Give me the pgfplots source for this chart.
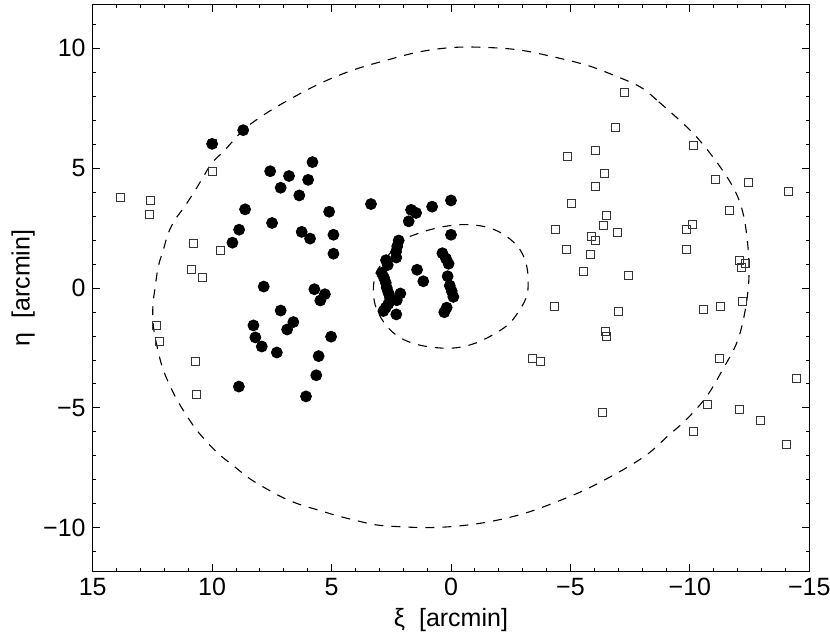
\documentclass[border=0pt]{standalone}
\usepackage{fontspec}
\setmainfont{Liberation Sans}
\usepackage{pgfplots}
\usepackage{pgfplotstable}
\pgfplotsset{compat=1.18}

% members: filled circles
\pgfplotstableread{
x y
8.70 6.58
10.0 6.01
5.80 5.25
7.57 4.87
6.78 4.67
5.98 4.51
7.13 4.18
6.35 3.86
8.62 3.28
3.35 3.50
5.10 3.18
7.49 2.71
8.87 2.43
6.25 2.34
5.90 2.06
4.92 2.22
9.15 1.89
4.92 1.43
7.84 0.06
5.72 -0.05
5.28 -0.26
5.47 -0.52
7.13 -0.94
6.60 -1.42
8.27 -1.56
6.86 -1.73
5.02 -2.03
8.19 -2.06
7.92 -2.44
7.29 -2.69
5.54 -2.84
5.64 -3.64
8.88 -4.11
6.07 -4.52
1.67 3.26
1.46 3.13
0.79 3.39
0.00 3.65
1.77 2.78
0.00 2.22
2.19 1.98
2.25 1.74
2.30 1.51
2.29 1.27
2.72 1.16
2.65 0.96
0.36 1.45
0.21 1.23
0.10 1.01
1.42 0.76
2.90 0.63
2.80 0.42
0.14 0.49
2.73 0.22
1.16 0.28
0.05 0.10
2.69 0.01
-0.03 -0.13
-0.10 -0.37
2.62 -0.20
2.12 -0.23
2.55 -0.41
2.27 -0.51
2.62 -0.66
2.73 -0.82
2.83 -0.96
2.29 -1.10
0.18 -0.82
0.28 -1.01
}\filled

% field: open squares
\pgfplotstableread{
x y
13.85 3.79
12.56 3.65
12.61 3.06
9.97 4.84
10.0 6.03
10.78 1.85
9.65 1.56
10.88 0.78
10.41 0.44
12.33 -1.55
12.19 -2.22
10.70 -3.07
10.67 -4.44
-7.27 8.17
-6.90 6.70
-4.87 5.48
-6.03 5.72
-10.17 5.94
-6.44 4.79
-6.04 4.23
-11.09 4.52
-12.44 4.40
-14.13 4.04
-5.03 3.51
-11.66 3.22
-6.51 3.01
-6.37 2.61
-10.10 2.63
-9.86 2.44
-4.39 2.46
-6.99 2.30
-5.87 2.14
-6.04 1.99
-4.85 1.60
-9.87 1.59
-5.85 1.39
-12.06 1.16
-12.31 1.03
-12.15 0.86
-5.54 0.69
-7.44 0.52
-4.32 -0.76
-12.21 -0.55
-11.28 -0.76
-10.56 -0.89
-7.03 -0.99
-6.46 -1.81
-6.53 -2.03
-3.40 -2.96
-3.74 -3.07
-11.26 -2.93
-14.46 -3.76
-10.74 -4.87
-12.06 -5.08
-12.97 -5.54
-6.33 -5.19
-10.15 -5.98
-14.06 -6.51
}\field

\begin{document}
\begin{tikzpicture}
\begin{axis}[
    at={(0,0)}, anchor=south west,
    scale only axis, width=358.3pt, height=283pt,
    xmin=-15, xmax=15, x dir=reverse,
    ymin=-11.8, ymax=11.8,
    xtick={-15,-10,-5,0,5,10,15},
    xticklabels={−15,−10,−5,0,5,10,15},
    ytick={-10,-5,0,5,10},
    yticklabels={−10,−5,0,5,10},
    minor xtick={-14,-13,-12,-11,-9,-8,-7,-6,-4,-3,-2,-1,1,2,3,4,6,7,8,9,11,12,13,14},
    minor ytick={-11,-9,-8,-7,-6,-4,-3,-2,-1,1,2,3,4,6,7,8,9,11},
    tick align=inside,
    major tick length=3.5pt, minor tick length=1.7pt,
    axis line style={line width=0.5pt},
    every tick/.style={black, line width=0.45pt},
    tick label style={font=\fontsize{12.5}{15}\selectfont},
    label style={font=\fontsize{12.5}{15}\selectfont},
    xlabel={ξ\ \ [arcmin]},
    ylabel={η\ \ [arcmin]},
    xlabel style={at={(axis description cs:0.5,-0.087)}, anchor=center},
    ylabel style={at={(axis description cs:-0.097,0.5)}, anchor=center},
    clip=false,
]
% outer contour
\addplot[black, line width=0.55pt, dash pattern=on 4.5pt off 4pt, smooth, tension=0.6] coordinates {
(-8.61,7.84) (-7.91,8.39) (-6.79,8.88) (-5.68,9.29) (-4.28,9.64) (-2.89,9.92)
(-1.49,10.03) (-0.10,10.03) (1.30,9.85) (2.69,9.50) (4.09,9.09) (5.48,8.53)
(6.87,7.80) (7.85,7.21) (8.69,6.59) (9.46,5.76) (10.01,5.21) (10.36,4.65)
(10.78,3.96) (11.20,3.33) (11.55,2.85) (11.83,2.30) (12.04,1.60) (12.25,0.91)
(12.38,0.07) (12.48,-0.76) (12.46,-1.59) (12.31,-2.42) (12.10,-3.25) (11.83,-3.94)
(11.48,-4.64) (11.06,-5.33) (10.57,-6.02) (9.80,-6.85) (9.11,-7.41) (8.41,-7.96)
(7.71,-8.38) (7.02,-8.75) (6.32,-9.03) (5.62,-9.24) (4.78,-9.49) (3.95,-9.70)
(3.11,-9.88) (2.00,-9.96) (0.88,-9.99) (-0.24,-9.93) (-1.35,-9.79) (-2.47,-9.56)
(-3.44,-9.28) (-4.56,-8.86) (-5.54,-8.45) (-6.51,-7.96) (-7.49,-7.41) (-8.33,-6.85)
(-9.09,-6.16) (-9.87,-5.47) (-10.71,-4.51) (-11.38,-3.39) (-11.97,-2.27) (-12.30,-1.02)
(-12.47,0.35) (-12.43,1.73) (-12.22,3.14) (-11.80,4.22) (-10.96,5.47) (-10.0,6.59)
(-8.61,7.84)
};
% inner contour
\addplot[black, line width=0.55pt, dash pattern=on 4.5pt off 4pt, smooth, tension=0.6] coordinates {
(1.72,2.15) (0.88,2.43) (0.04,2.60) (-0.79,2.64) (-1.63,2.50) (-2.33,2.15)
(-2.89,1.60) (-3.17,0.91) (-3.23,0.22) (-3.17,-0.34) (-2.89,-0.89) (-2.47,-1.45)
(-1.91,-1.86) (-1.08,-2.28) (-0.24,-2.49) (0.60,-2.49) (1.44,-2.35) (2.13,-2.07)
(2.69,-1.59) (3.11,-0.89) (3.25,-0.20) (3.18,0.49) (2.97,0.91) (2.41,1.60) (1.72,2.15)
};
\addplot[only marks, mark=square, mark size=2pt, mark options={draw=black!80, line width=0.5pt, fill=none}] table {\field};
\addplot[only marks, mark=*, mark size=2.75pt, mark options={draw=black, fill=black}] table {\filled};
\end{axis}
\pgfresetboundingbox
\path[use as bounding box] (-46.35pt,-33.5pt) rectangle (368.65pt,285.5pt);
\end{tikzpicture}
\end{document}
